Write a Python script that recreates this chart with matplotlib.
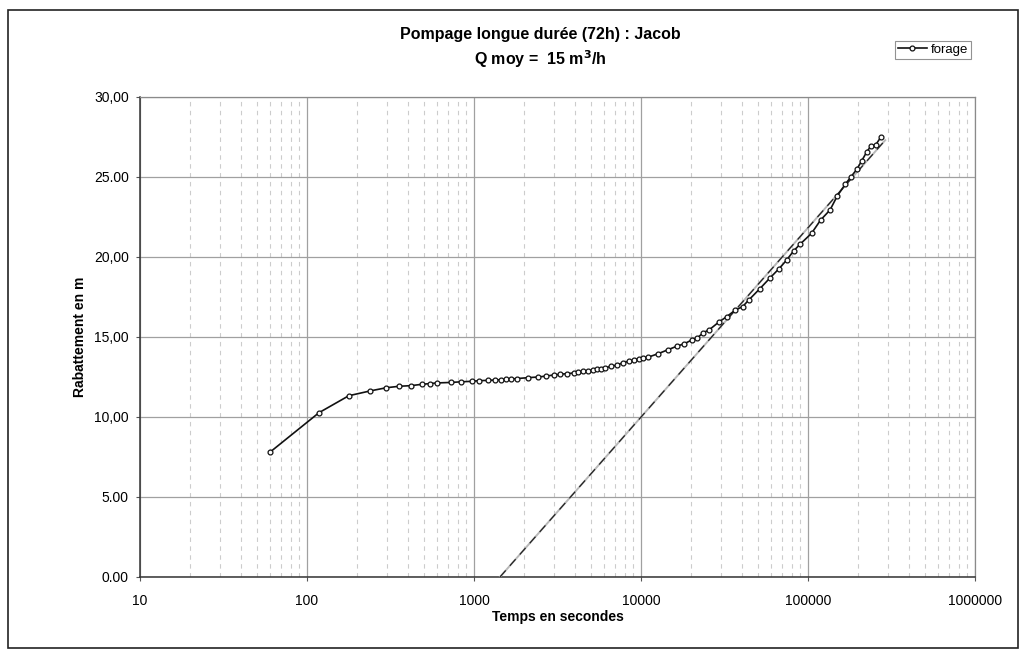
import matplotlib
matplotlib.use("Agg")
import matplotlib.pyplot as plt
from matplotlib.ticker import FixedLocator, NullFormatter
from matplotlib.patches import Rectangle

plt.rcParams['font.family'] = ['Liberation Sans', 'DejaVu Sans']

# Measured drawdown (time in s, drawdown in m)
temps = [60, 118, 178, 239, 299, 356, 419, 486, 545, 603, 726, 839, 969, 1076,
         1213, 1330, 1458, 1561, 1671, 1801, 2115, 2427, 2710, 3021, 3284, 3602,
         3950, 4213, 4513, 4833, 5135, 5425, 5754, 6106, 6607, 7210, 7830, 8470,
         9080, 9720, 10320, 10970, 12700, 14550, 16360, 18170, 20130, 21740,
         23600, 25630, 29300, 32600, 36560, 40620, 44360, 51600, 59200, 66800,
         74500, 82000, 89500, 105000, 119000, 135500, 150000, 167000, 181000,
         196000, 210000, 225000, 238500, 254000, 272500]
rabattement = [7.80, 10.27, 11.33, 11.63, 11.83, 11.92, 11.96, 12.04, 12.09, 12.13,
               12.16, 12.20, 12.23, 12.27, 12.29, 12.31, 12.33, 12.36, 12.38, 12.40,
               12.46, 12.50, 12.56, 12.63, 12.67, 12.71, 12.75, 12.81, 12.86, 12.89,
               12.94, 12.98, 13.02, 13.07, 13.17, 13.25, 13.40, 13.48, 13.56, 13.64,
               13.69, 13.73, 13.96, 14.21, 14.42, 14.58, 14.81, 14.94, 15.27, 15.45,
               15.94, 16.27, 16.67, 16.90, 17.33, 18.03, 18.69, 19.25, 19.81, 20.38,
               20.79, 21.48, 22.31, 22.94, 23.83, 24.54, 25.02, 25.48, 26.02, 26.58,
               26.94, 27.00, 27.48]

# Jacob straight line (fit)
fit_t = [1430, 290000]
fit_v = [0.0, 27.3]

y_ticks = [0, 5, 10, 15, 20, 25, 30]
y_labels = ["0.00", "5.00", "10,00", "15,00", "20,00", "25.00", "30,00"]
x_ticks = [10, 100, 1000, 10000, 100000, 1000000]
x_labels = ["10", "100", "1000", "10000", "100000", "1000000"]

fig = plt.figure(figsize=(10.26, 6.54), dpi=100)
ax = fig.add_axes([140/1026, 77/654, 835/1026, 480/654])

ax.set_xscale('log')
ax.set_xlim(10, 1e6)
ax.set_ylim(0, 30)

# grids
minor = [m * 10**d for d in range(1, 6) for m in range(2, 10)]
ax.xaxis.set_minor_locator(FixedLocator(minor))
ax.xaxis.set_minor_formatter(NullFormatter())
ax.set_xticks(x_ticks)
ax.set_xticklabels(x_labels)
ax.set_yticks(y_ticks)
ax.set_yticklabels(y_labels)
ax.grid(which='major', axis='both', color='#a0a0a0', linewidth=0.9, linestyle='-')
ax.grid(which='minor', axis='x', color='#cccccc', linewidth=0.8, linestyle=(0, (4, 4)))
ax.set_axisbelow(True)

ax.tick_params(axis='y', which='major', labelsize=10, length=3, color='#555555', pad=5)
ax.tick_params(axis='x', which='major', labelsize=10, length=3, color='#555555', pad=9)
ax.tick_params(axis='x', which='minor', length=0)
for s in ['top', 'right']:
    ax.spines[s].set_color('#8a8a8a')
    ax.spines[s].set_linewidth(0.9)
for s in ['left', 'bottom']:
    ax.spines[s].set_color('#333333')
    ax.spines[s].set_linewidth(1.1)

# fit line: grey solid under black dashes
ax.plot(fit_t, fit_v, color='#b8b8b8', linewidth=1.4, zorder=3)
ax.plot(fit_t, fit_v, color='#222222', linewidth=0.9, linestyle=(0, (7, 5)), zorder=3)

ax.plot(temps, rabattement, color='#111111', linewidth=1.2, marker='o', markersize=3.5,
        markerfacecolor='white', markeredgecolor='#111111', markeredgewidth=0.9,
        label='forage', zorder=4)

ax.set_xlabel("Temps en secondes", fontsize=10, fontweight='bold', labelpad=2)
ax.set_ylabel("Rabattement en m", fontsize=10, fontweight='bold', labelpad=5)

fig.text(540/1026, 1 - 35/654, "Pompage longue durée (72h) : Jacob", ha='center', va='center',
         fontsize=11.5, fontweight='bold')
fig.text(540/1026, 1 - 59/654, "Q moy =  15 m$^{\\mathbf{3}}$/h", ha='center', va='center',
         fontsize=11.5, fontweight='bold')

leg = fig.legend(loc='center', bbox_to_anchor=(933/1026, 1 - 50/654), fontsize=9.5,
                 frameon=True, fancybox=False, handlelength=2.2, borderpad=0.25,
                 handletextpad=0.3, borderaxespad=0)
leg.get_frame().set_edgecolor('#777777')
leg.get_frame().set_linewidth(0.8)

# chart border
fig.patches.append(Rectangle((8/1026, 6/654), 1010/1026, 638/654, transform=fig.transFigure,
                             fill=False, edgecolor='#222222', linewidth=1.2))

fig.savefig("out.png", dpi=100)
